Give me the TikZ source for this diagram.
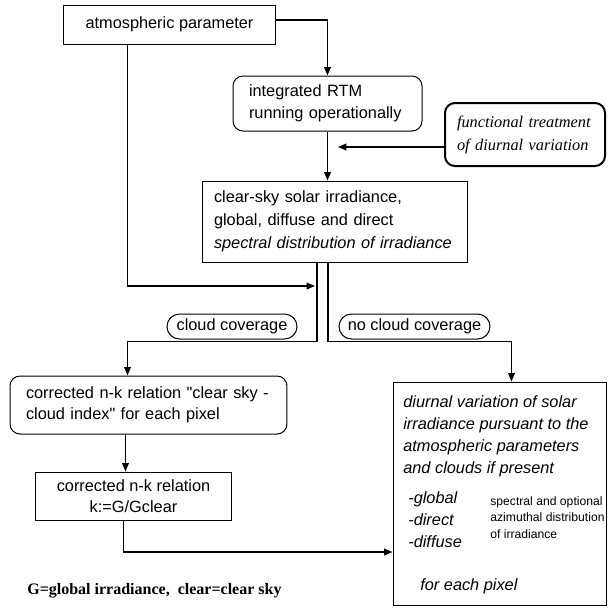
\documentclass[tikz,border=0pt]{standalone}
\usepackage{fontspec}
\setmainfont{Liberation Serif}
\setsansfont{Liberation Sans}
\usetikzlibrary{arrows.meta}
\begin{document}
\begin{tikzpicture}[x=0.6pt,y=-0.6pt,
  font=\sffamily\fontsize{9.8pt}{13.2pt}\selectfont,
  box/.style={draw,line width=0.6pt,inner sep=0pt},
  rbox/.style={box,rounded corners=6pt},
  pill/.style={box,rounded corners=7.5pt,minimum height=15pt},
  arr/.style={line width=0.8pt,-{Triangle[length=5pt,width=4pt]}},
  itsans/.style={font=\sffamily\itshape\fontsize{9.8pt}{13.2pt}\selectfont},
  txt/.style={anchor=north west,inner sep=0pt,align=left}]
\useasboundingbox (0,0) rectangle (610,610);
% boxes
\node[box,minimum width=127.8pt,minimum height=23.4pt] (atm) at (169.5,24.5) {atmospheric parameter};
\node[rbox,minimum width=113.4pt,minimum height=33pt,text width=94.2pt,align=left] (rtm) at (327.5,103.5) {integrated RTM\\running operationally};
\node[rbox,line width=1.2pt,minimum width=96pt,minimum height=37.8pt,text width=81.6pt,align=left,
  font=\rmfamily\itshape\fontsize{9.8pt}{13.8pt}\selectfont] (func) at (525,134.5) {functional treatment\\of diurnal variation};
\node[box,minimum width=159.6pt,minimum height=48.6pt,text width=145.2pt,align=left,
  font=\sffamily\fontsize{9.8pt}{13.8pt}\selectfont] (clear) at (335,221.5)
  {clear-sky solar irradiance,\\global, diffuse and direct\\\textit{spectral distribution of irradiance}};
\node[pill,minimum width=78pt] (cc) at (232,326.5) {cloud coverage};
\node[pill,minimum width=90.6pt] (ncc) at (414.5,326.5) {no cloud coverage};
\node[rbox,minimum width=166.2pt,minimum height=34.8pt,text width=147pt,align=left,
  font=\sffamily\fontsize{9.8pt}{12.6pt}\selectfont] (nk1) at (148.5,405)
  {corrected n-k relation \textquotedbl clear sky -\\cloud index\textquotedbl\ for each pixel};
\node[box,minimum width=118.2pt,minimum height=28.8pt,align=center,
  font=\sffamily\fontsize{9.8pt}{12.6pt}\selectfont] (nk2) at (133.5,496) {corrected n-k relation\\k:=G/Gclear};
\node[box,minimum width=127.8pt,minimum height=133.8pt] (diurnal) at (499.5,493.5) {};
% texts in the result box
\node[txt,itsans] (dtxt) at (403,395) {diurnal variation of solar\\irradiance pursuant to the\\atmospheric parameters\\and clouds if present};
\node[txt,itsans] (comp) at (408,491) {-global\\-direct\\-diffuse};
\node[txt,font=\sffamily\fontsize{7.3pt}{9.9pt}\selectfont] (spec) at (490,496) {spectral and optional\\azimuthal distribution\\of irradiance};
\node[txt,itsans] (pix) at (420,578) {for each pixel};
\node[txt,font=\rmfamily\bfseries\fontsize{9.6pt}{12pt}\selectfont] (legend) at (27,583) {G=global irradiance,\ \ clear=clear sky};
% connectors
\draw[arr] ([yshift=2.7pt]atm.east) -| (rtm.north);
\draw[arr] (rtm.south) -- (rtm.south |- clear.north);
\coordinate (fend) at (338,147);
\draw[arr] (func.west |- fend) -- (fend);
\coordinate (jn) at (315,286);
\draw[arr] ([xshift=39pt]atm.south west) |- (jn);
\draw[arr] ([xshift=-10.8pt]clear.south) -- ++(0,79) -| ([xshift=70.8pt]nk1.north west);
\draw[arr] ([xshift=-4.2pt]clear.south) -- ++(0,79) -| ([xshift=71.4pt]diurnal.north west);
\coordinate (k1) at ([xshift=69.6pt]nk1.south west);
\draw[arr] (k1) -- (k1 |- nk2.north);
\draw[arr] ([xshift=53.4pt]nk2.south west) |- ([yshift=-35.1pt]diurnal.west);
\end{tikzpicture}
\end{document}
